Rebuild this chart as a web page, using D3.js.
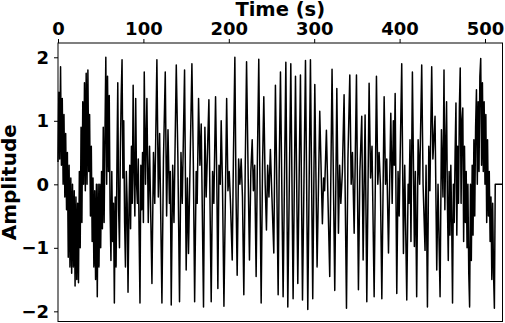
<!DOCTYPE html>
<html>
<head>
<meta charset="utf-8">
<script src="https://cdn.jsdelivr.net/npm/d3@7"></script>
<style>
  body { margin: 0; background: #fff; }
  svg { display: block; font-family: "DejaVu Sans", sans-serif; font-weight: bold; }
</style>
</head>
<body>
<svg id="chart"></svg>
<script>
// signal: peaks, troughs and the dense in-between swings
const time = [
  0, 1, 2, 3, 4, 5, 6, 7, 8, 9, 10, 11, 12, 13, 14, 15, 16, 17, 18, 19,
  20, 21, 22, 23, 24, 25, 26, 27, 28, 29, 30, 31, 32, 33, 34, 35, 36, 37, 38, 39,
  40, 41, 42, 43, 44, 45, 46, 47, 48, 49, 50, 51, 52, 53, 54, 55, 56, 57, 58, 59,
  60, 61, 62, 63, 64, 65, 66, 67, 68, 69, 70, 71, 72, 73, 74, 75, 76, 77, 78, 79,
  80, 81, 82, 83, 84, 85, 86, 87, 88, 89, 90, 91, 92, 93, 94, 95, 96, 97, 98, 99,
  100, 101, 102.5, 104.1, 105.7, 107.2, 110, 111.8, 113.3, 115.8, 117.5, 119, 121.7,
  123.5, 125.6, 127.2, 128.8, 130.5, 131.5, 132.6, 134.3, 135.8, 138.5, 140.4, 142.3, 144, 145.5, 148.2, 150.1, 151.5, 152.8, 154.5, 156.8,
  158.5, 160, 161.8, 163, 164.6, 166.2, 167.7, 170.4, 172, 173.5, 175, 176.7, 178, 179.4, 181, 182.5, 184.5, 186, 187.2, 188.5,
  190, 191.1, 192.6, 194.3, 196, 197.5, 199, 200.5, 202, 204, 205.5, 207.1, 208.5, 209.8, 211.5, 213, 214.5, 216, 217.6, 219.2,
  220.8, 222.5, 224.2, 225.8, 227.4, 228.8, 230.3, 232, 233.5, 235.1, 236.5, 237.9, 239.5, 241, 242.6, 244.1, 245.5, 247, 248.7, 250.5,
  252.7, 254.6, 256.2, 257.8, 259, 260.5, 263.6, 266.8, 269.1, 272.6, 275.3, 278.1, 280.8, 283.9, 286.3, 289.8, 292.5, 295.6, 298.3, 300.7,
  303.4, 306.5, 309.6, 311, 312.2, 314.3, 318.2, 320.9, 324.1, 326.5, 328.4, 329.8, 331.2, 333, 335, 337.8, 339.5, 341.7, 343.3, 344.8,
  346.8, 349.5, 351.8, 353.5, 355.7, 357.3, 359.6, 361.6, 364.3, 366, 367.7, 370.2, 372.9, 374.5, 376, 377.5, 379.2, 381.9, 383.5, 385,
  387, 389.7, 391.3, 392.7, 393.7, 394.8, 396.7, 398.2, 399.5, 402.5, 404.5, 406, 408.4, 410, 411, 412.2, 413.3, 415, 417.3, 418.5,
  420, 421.7, 423.5, 425.9, 427.5, 429.8, 431, 432.6, 434.2, 435.5, 437.6, 439, 441.5, 443.5, 445, 447.4, 449, 450.8,
  452, 453, 454, 455, 456, 457, 458, 459, 460, 461, 462, 463, 464, 465, 466, 467, 468, 469, 470, 471,
  472, 473, 474, 475, 476, 477, 478, 479, 480, 481, 482, 483, 484, 485, 486, 487, 488, 489, 490, 491,
  492, 493, 494, 495, 496, 497, 498, 499, 500, 501, 502, 503, 504, 505, 506, 507, 508, 509, 510, 511,
  512, 520.5
];
const amplitude = [
  0.35, 1.45, 0.4, 1.85, 0.3, 1.35, 0.0, 1.1, -0.2, 0.8, -0.4, 0.5, -1.15, 0.3, -1.3, 0.1, -1.4, 0.0, -1.3, -0.1,
  -1.6, -0.2, -1.5, -0.3, -1.55, 0.2, -1.0, 0.9, -0.6, 1.3, 0.0, 1.6, -0.1, 1.75, 0.0, 1.8, 0.2, 1.1, -0.5, 0.6,
  -0.9, 0.1, -1.3, -0.1, -1.5, 0.0, -1.77, 0.0, -1.3, 0.0, -1.0, 0.2, -0.7, 0.9, -0.6, 0.8, 2.0, 0.0, 1.7, 0.2,
  1.4, -0.4, -1.2, 0.2, -0.9, -0.3, -1.87, -0.2, -1.3, 0.3, 1.6, -0.4, -1.0, 0.5, 1.4, 1.96, 0.1, 1.0, -0.6, -1.3,
  0.2, -0.3, -1.7, -0.5, 0.3, -0.7, 0.6, -0.3, 1.56, 0.2, -0.5, 1.35, 0.0, -0.3, 0.4, -0.8, -1.87, 0.3, -0.4, 0.5,
  -0.6, 1.77, 0.0, 1.35, -0.6, 0.6, -1.56, 0.5, -0.3, 1.96, -0.2, 0.8, -1.87,
  0.4, 1.77, -0.5, 0.86, -0.3, 0.2, -1.9, 0.3, -0.6, 1.88, 0.4, -1.85, 0.5, -0.3, 1.8, -1.35, 0.1, -1.09, 0.2, 1.9,
  0.3, -1.85, 0.2, -0.3, 1.35, 0.3, 0.95, -1.93, 0.9, -0.2, 0.5, 1.33, -0.3, -1.85, 0.2, -0.3, 1.38, 0.0, -1.64, 0.3,
  0.0, 1.0, 0.0, -1.92, -0.2, 1.35, -0.1, 0.2, -0.3, -1.19, 0.5, 2.0, -0.2, -1.43, 0.4, 0.0, 0.4, -0.2, -1.74, 0.2,
  1.93, 0.3, -1.19, 0.2, 0.7, -0.1, 0.3, -1.45, 0.4, 1.97, 0.0, -1.87, 0.3, 1.38, 0.0, -0.72, 0.3, -0.2, 0.55, -0.2,
  -1.08, 1.56, 0.0, -1.74, 0.2, 1.77, -1.77, 1.92, -1.93, 1.9, -1.8, 1.7, -1.56, 1.72, -1.82, 1.95, -1.97, 1.96, -1.8, 1.57,
  -1.3, 1.15, -0.62, 0.1, -0.1, 0.85, -1.45, 1.81, -1.67, 1.51, -0.77, 0.3, -0.3, 0.2, 1.41, -1.95, 0.4, 1.72, 0.0, 0.5,
  -0.77, 1.72, -1.66, 0.2, 1.07, -1.19, 1.09, -1.85, 1.59, 0.1, 0.6, -1.77, 1.7, 0.0, 0.5, 0.0, -1.8, 1.38, 0.0, 0.4,
  -1.08, 1.12, -0.3, 1.0, 0.3, 1.43, -1.72, 0.2, -0.5, 1.9, -1.09, 0.3, -1.82, 0.0, -0.3, 0.7, -0.9, 1.77, -0.98, 0.2,
  -1.77, 0.7, 0.0, 1.88, 0.0, -1.04, 0.3, -1.93, 0.6, -0.1, 1.85, 0.4, 1.07, -1.35, 0.0, -1.77, 0.86, -0.2,
  1.8, -0.4, 0.6, 1.3, -0.3, -1.2, 0.2, -0.8, 0.3, -0.6, -1.87, 0.0, -0.6, 0.5, 1.28, -0.8, 0.6, -0.3, 1.2, 1.83,
  -0.3, 1.0, 1.2, -0.9, 0.6, -0.6, 0.2, -1.0, 0.0, -1.4, -1.93, 0.0, -1.2, 0.3, -0.8, 0.7, -0.5, 0.9, 1.49, 0.0,
  1.3, 0.2, 1.7, 1.98, 0.3, 1.6, 0.2, 1.3, 0.0, 1.1, -0.6, 0.7, -0.5, 0.2, -0.9, -0.2, -1.5, -0.3, -1.4, -1.95,
  0, 0
];
const xTicks = [0, 100, 200, 300, 400, 500];
const yTicks = [-2, -1, 0, 1, 2];

var width = 505, height = 323;
var margin = ({top: 43, right: 2.5, bottom: 1.5, left: 58});

var svg = d3.select('#chart')
  .attr('width', width)
  .attr('height', height);

var x = d3.scaleLinear()
  .domain([0, 520.5])
  .range([margin.left, width - margin.right]);

var y = d3.scaleLinear()
  .domain([-2.16, 2.225])
  .range([height - margin.bottom, margin.top]);

var data = time.map((t, i) => ({t: t, v: amplitude[i]}));

var line = d3.line()
  .x(d => x(d.t))
  .y(d => y(d.v));

svg.append('path')
  .datum(data)
  .attr('fill', 'none')
  .attr('stroke', '#000')
  .attr('stroke-width', 1.5)
  .attr('stroke-linejoin', 'round')
  .attr('d', line);

// frame
svg.append('rect')
  .attr('x', margin.left)
  .attr('y', margin.top)
  .attr('width', width - margin.right - margin.left)
  .attr('height', height - margin.bottom - margin.top)
  .attr('fill', 'none')
  .attr('stroke', '#000')
  .attr('stroke-width', 1);

var xAxis = svg.append('g')
  .attr('transform', `translate(0,${margin.top})`)
  .call(d3.axisTop(x).tickValues(xTicks).tickSize(4).tickPadding(4).tickSizeOuter(0));

var yAxis = svg.append('g')
  .attr('transform', `translate(${margin.left},0)`)
  .call(d3.axisLeft(y).tickValues(yTicks).tickFormat(d3.format('d')).tickSize(4).tickPadding(5).tickSizeOuter(0));

[xAxis, yAxis].forEach(g => {
  g.attr('font-family', null).attr('font-size', null);
  g.select('.domain').remove();
  g.selectAll('.tick line').attr('stroke', '#000');
  g.selectAll('.tick text').attr('fill', '#000').style('font-size', '18px');
});

svg.append('text')
  .attr('x', (margin.left + width - margin.right) / 2)
  .attr('y', 16)
  .attr('text-anchor', 'middle')
  .style('font-size', '19.5px')
  .text('Time (s)');

svg.append('text')
  .attr('transform', `translate(16,${(margin.top + height - margin.bottom) / 2}) rotate(-90)`)
  .attr('text-anchor', 'middle')
  .style('font-size', '20px')
  .text('Amplitude');
</script>
</body>
</html>
